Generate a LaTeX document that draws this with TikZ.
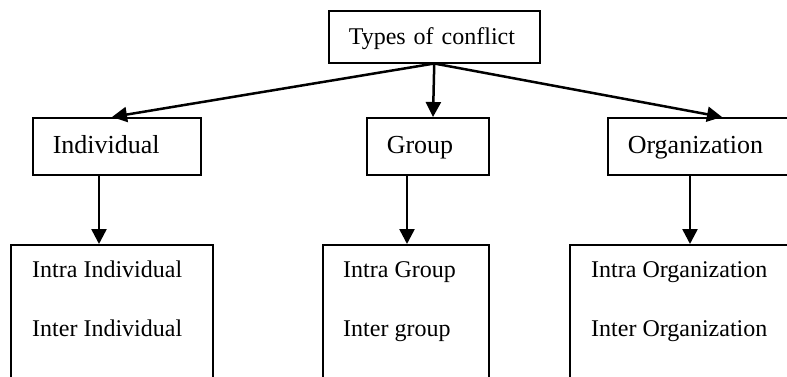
\documentclass[tikz,border=0pt]{standalone}
\usepackage{fontspec}
\setmainfont{Liberation Serif}
\usetikzlibrary{arrows.meta,calc}
\begin{document}
\begin{tikzpicture}[x=1pt,y=-1pt,
  box/.style={draw, line width=1.5pt, rectangle, anchor=north west, inner ysep=0pt,
    inner xsep=20pt, align=left, text height=21pt, text depth=6pt,
    font=\fontsize{26}{30}\selectfont},
  txt/.style={anchor=base west, inner sep=0pt, font=\fontsize{24}{30}\selectfont},
  link/.style={line width=2.5pt, -{Triangle[length=15pt,width=15pt]}}]
\useasboundingbox (0,0) rectangle (787,376);
\clip (0,0) rectangle (787,376);
% root and first level
\node[box, minimum width=211pt, minimum height=52pt, text width=171pt,
  font=\fontsize{24}{30}\selectfont] (top) at (328,10) {Types of conflict};
\node[box, minimum width=168pt, minimum height=57pt, text width=128pt] (ind) at (32,117) {Individual};
\node[box, minimum width=122pt, minimum height=57pt, text width=82pt] (grp) at (366,117) {Group};
\node[box, minimum width=200pt, minimum height=57pt, text width=160pt] (org) at (607,117) {Organization};
% second level boxes
\node[box, minimum width=202pt, minimum height=160pt] (indb) at (10,244) {};
\node[box, minimum width=166pt, minimum height=160pt] (grpb) at (322,244) {};
\node[box, minimum width=240pt, minimum height=160pt] (orgb) at (569,244) {};
\node[txt] (ind1) at (32,277) {Intra Individual};
\node[txt] (ind2) at (32,336) {Inter Individual};
\node[txt] (grp1) at (343,277) {Intra Group};
\node[txt] (grp2) at (343,336) {Inter group};
\node[txt] (org1) at (591,277) {Intra Organization};
\node[txt] (org2) at (591,336) {Inter Organization};
% connectors
\draw[link] (top.south) -- ($(ind.north west)+(80,0)$);
\draw[link] (top.south) -- ($(grp.north west)+(67,0)$);
\draw[link] (top.south) -- ($(org.north west)+(115,0)$);
\draw[link] ($(ind.south west)+(67,0)$) -- ($(indb.north west)+(89,0)$);
\draw[link] ($(grp.south west)+(41,0)$) -- ($(grpb.north west)+(85,0)$);
\draw[link] ($(org.south west)+(83,0)$) -- ($(orgb.north west)+(121,0)$);
\end{tikzpicture}
\end{document}
